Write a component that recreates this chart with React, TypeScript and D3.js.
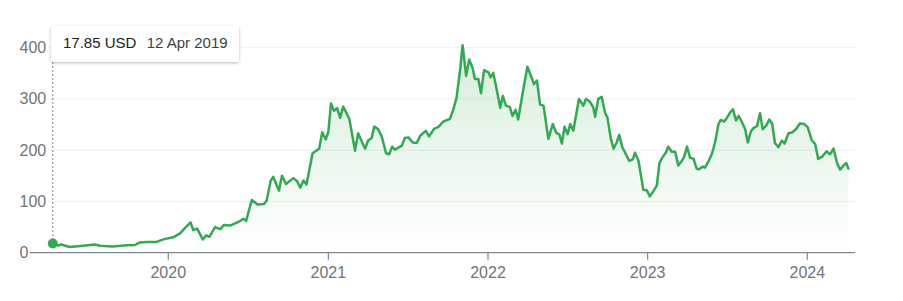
import React from "react";
import * as d3 from "d3";

const dates: string[] = [
  "2019-04-12","2019-04-24","2019-05-01","2019-05-21","2019-06-20","2019-07-17","2019-07-29","2019-08-27","2019-09-28","2019-10-17","2019-10-28","2019-11-13","2019-12-05","2019-12-21",
  "2020-01-12","2020-01-28","2020-02-08","2020-02-21","2020-02-27","2020-03-07","2020-03-20","2020-03-28","2020-04-04","2020-04-17","2020-04-29","2020-05-07","2020-05-21","2020-06-07","2020-06-21","2020-06-27","2020-07-10","2020-07-23","2020-08-07","2020-08-13","2020-08-22","2020-08-28","2020-09-10","2020-09-17","2020-09-26","2020-10-13","2020-10-21","2020-10-29","2020-11-05","2020-11-12","2020-11-26","2020-12-11","2020-12-18","2020-12-26",
  "2021-01-01","2021-01-07","2021-01-14","2021-01-21","2021-01-28","2021-02-04","2021-02-18","2021-03-03","2021-03-10","2021-03-26","2021-04-02","2021-04-10","2021-04-16","2021-04-25","2021-05-03","2021-05-13","2021-05-20","2021-05-27","2021-06-02","2021-06-18","2021-06-25","2021-07-03","2021-07-13","2021-07-22","2021-07-30","2021-08-12","2021-08-19","2021-08-31","2021-09-09","2021-09-21","2021-10-06","2021-10-14","2021-10-21","2021-10-29","2021-11-04","2021-11-12","2021-11-19","2021-11-27","2021-12-02","2021-12-10","2021-12-16","2021-12-23",
  "2022-01-02","2022-01-07","2022-01-13","2022-01-21","2022-01-29","2022-02-04","2022-02-11","2022-02-20","2022-02-26","2022-03-05","2022-03-11","2022-03-21","2022-04-01","2022-04-11","2022-04-16","2022-04-23","2022-04-30","2022-05-08","2022-05-19","2022-05-29","2022-06-06","2022-06-13","2022-06-19","2022-06-25","2022-07-02","2022-07-08","2022-07-15","2022-07-28","2022-08-07","2022-08-13","2022-08-22","2022-08-30","2022-09-03","2022-09-10","2022-09-18","2022-09-26","2022-10-01","2022-10-09","2022-10-15","2022-10-22","2022-10-28","2022-11-04","2022-11-10","2022-11-20","2022-11-28","2022-12-03","2022-12-11","2022-12-22","2022-12-30",
  "2023-01-06","2023-01-14","2023-01-22","2023-01-28","2023-02-04","2023-02-12","2023-02-17","2023-02-25","2023-03-05","2023-03-12","2023-03-20","2023-03-25","2023-04-01","2023-04-08","2023-04-16","2023-04-23","2023-04-29","2023-05-07","2023-05-12","2023-05-20","2023-05-28","2023-06-04","2023-06-12","2023-06-17","2023-06-25","2023-07-01","2023-07-09","2023-07-15","2023-07-22","2023-07-28","2023-08-04","2023-08-12","2023-08-18","2023-08-25","2023-08-31","2023-09-08","2023-09-15","2023-09-21","2023-09-29","2023-10-06","2023-10-13","2023-10-19","2023-10-27","2023-11-04","2023-11-10","2023-11-19","2023-11-28","2023-12-06","2023-12-15","2023-12-25",
  "2024-01-02","2024-01-11","2024-01-19","2024-01-26","2024-02-05","2024-02-14","2024-02-22","2024-03-01","2024-03-09","2024-03-16","2024-03-24","2024-03-30","2024-04-04",
];

const prices: number[] = [
  17.85,14,16,11,13.5,16,13.5,12,14.5,15,20,21,21,26,
  30,37.7,48,59,44,47,26,34,31,50,46,54,53,59,66,62,103,94,95,102,140,148,121,150,134,145.5,140,127,141,133,194,203,235,221,
  236,291,277,282,263,285,261,199,233,203,219,224,246,241,227,194,192,207,201,209,224,225,215,214,228,238,227,242,245,256,261,280,302,355,405,345,377,360,339,339,311,356,
  352,342,351,318,283,306,287,284,267,279,260,310,363,341,329,336,289,287,222,251,234,231,213,246,231,251,238,300,287,300,295,283,265,300,304,272,264,222,203,215,230,206,196,179,182,195,180,123,122,
  110,120,131,175,186,196,207,197,197,170,179,186,207,185,183,164,163,168,166,178,193,215,251,259,256,263,274,280,258,267,256,241,215,237,243,247,272,241,248,260,251,214,206,219,213,233,235,241,252,251,
  245,220,212,183,188,198,192,203,175,162,170,175,164,
];

const yTicks: number[] = [0, 100, 200, 300, 400];
const xTickYears: number[] = [2020, 2021, 2022, 2023, 2024];
const tooltipPrice = "17.85 USD";
const tooltipDate = "12 Apr 2019";

const GREEN = "#34a853";
const FONT = "Arial, 'Liberation Sans', Helvetica, sans-serif";

export default function App() {
  const W = 903, H = 301;
  const parse = d3.utcParse("%Y-%m-%d");
  const data = dates.map((d, i) => ({ date: parse(d) as Date, value: prices[i] }));

  const first = data[0].date;
  const last = data[data.length - 1].date;
  const x = d3.scaleUtc()
    .domain([first, last])
    .range([52.8, 848.4]);
  const y = d3.scaleLinear().domain([0, 400]).range([252.7, 47.7]);

  const line = d3.line<{ date: Date; value: number }>()
    .x(d => x(d.date))
    .y(d => y(d.value));
  const area = d3.area<{ date: Date; value: number }>()
    .x(d => x(d.date))
    .y0(y(0))
    .y1(d => y(d.value));

  const axisLeft = 28;
  const axisRight = 855;
  const p0 = data[0];
  const px = x(p0.date);
  const py = y(p0.value);

  return (
    <svg width={W} height={H} style={{ position: "absolute", left: 0, top: 0, background: "#fff" }} fontFamily={FONT}>
      <defs>
        <linearGradient id="fillGrad" x1="0" y1={y(400)} x2="0" y2={y(0)} gradientUnits="userSpaceOnUse">
          <stop offset="0%" stopColor={GREEN} stopOpacity={0.2} />
          <stop offset="100%" stopColor={GREEN} stopOpacity={0} />
        </linearGradient>
        <filter id="shadow" x="-10%" y="-30%" width="120%" height="170%">
          <feDropShadow dx="0" dy="1" stdDeviation="1.5" floodColor="#000" floodOpacity="0.28" />
        </filter>
      </defs>

      {yTicks.filter(t => t > 0).map(t => (
        <line key={"g" + t} x1={axisLeft} x2={axisRight} y1={y(t)} y2={y(t)} stroke="#eeeeee" strokeWidth={1} />
      ))}

      <path d={area(data) || ""} fill="url(#fillGrad)" />

      <line x1={axisLeft} x2={axisRight} y1={y(0)} y2={y(0)} stroke="#80868b" strokeWidth={1.2} />
      {xTickYears.map(yr => {
        const tx = x(new Date(Date.UTC(yr, 0, 1)));
        return (
          <g key={"x" + yr}>
            <line x1={tx} x2={tx} y1={y(0)} y2={y(0) + 7} stroke="#80868b" strokeWidth={1.2} />
            <text x={tx} y={277.5} textAnchor="middle" fontSize={16} fill="#70757a">{yr}</text>
          </g>
        );
      })}

      {yTicks.map(t => {
        const label = String(t);
        const w = label.length * 8.9;
        return (
          <g key={"y" + t}>
            <rect x={17} y={y(t) - 8} width={w + 4} height={16} fill="#fff" />
            <text x={19.5} y={y(t) + 5.5} fontSize={16} fill="#70757a">{label}</text>
          </g>
        );
      })}

      <path d={line(data) || ""} fill="none" stroke={GREEN} strokeWidth={2.5} strokeLinejoin="round" strokeLinecap="round" />

      <line x1={px} x2={px} y1={62} y2={py} stroke="#80868b" strokeWidth={1} strokeDasharray="2,2" />
      <circle cx={px} cy={py} r={5} fill={GREEN} />

      <rect x={51} y={26} width={188} height={36} rx={3} fill="#fff" filter="url(#shadow)" />
      <text x={63} y={48.3} fontSize={15} fill="#202124">
        <tspan fontWeight={500}>{tooltipPrice}</tspan>
        <tspan x={146.7} fill="#3c4043">{tooltipDate}</tspan>
      </text>
    </svg>
  );
}
